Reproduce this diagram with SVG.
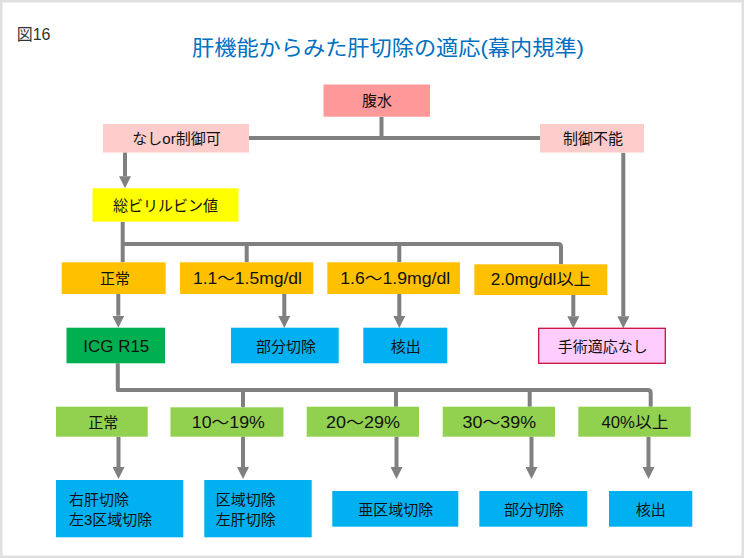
<svg xmlns="http://www.w3.org/2000/svg" width="744" height="558" viewBox="0 0 744 558">
<defs>
<style>
.t{font-family:"Liberation Sans","Noto Sans CJK JP",sans-serif;font-size:15px;fill:#111;dominant-baseline:central;text-anchor:middle}
.m{font-size:16px}
.l{text-anchor:start}
.c{fill:none;stroke:#808080;stroke-width:4;stroke-linejoin:round}
.a{marker-end:url(#ah)}
</style>
<marker id="ah" markerUnits="userSpaceOnUse" markerWidth="12" markerHeight="12" refX="0" refY="6" orient="auto">
<path d="M0,0 L12,6 L0,12 z" fill="#808080"/>
</marker>
</defs>
<rect x="1.25" y="1.25" width="741.5" height="555.5" fill="#fff" stroke="#e0e0e0" stroke-width="2.5"/>
<text x="16.7" y="40" style="font-family:'Liberation Sans','Noto Sans CJK JP',sans-serif;font-size:16px;fill:#333">図16</text>
<text x="388" y="47" textLength="392" lengthAdjust="spacingAndGlyphs" style="font-family:'Liberation Sans','Noto Sans CJK JP',sans-serif;font-size:21px;fill:#0070c0;dominant-baseline:central;text-anchor:middle">肝機能からみた肝切除の適応(幕内規準)</text>

<g id="connectors">
<path class="c" d="M381.5,116.7 V138 M249,138 H540"/>
<path class="c a" d="M125,152.3 V176.3"/>
<path class="c" d="M122.7,221.7 V262.3 M122.7,244 H558 Q561,244 561,247 V264.3 M246.7,244 V262.3 M399.3,244 V262.3"/>
<path class="c a" d="M118.3,294 V315.7"/>
<path class="c a" d="M284.3,294 V316"/>
<path class="c a" d="M399.3,294 V316"/>
<path class="c a" d="M573.3,295 V316.3"/>
<path class="c a" d="M623.3,152.7 V316.3"/>
<path class="c" d="M117.8,363.3 V390 H647.7 Q650.7,390 650.7,393 V406.7 M243,390 V407.3 M396,390 V406.7 M529.7,390 V406.7"/>
<path class="c a" d="M118.5,436.7 V467"/>
<path class="c a" d="M243,436.7 V467"/>
<path class="c a" d="M396.5,436.7 V467"/>
<path class="c a" d="M531.5,436.7 V467"/>
<path class="c a" d="M648.5,436.7 V467"/>
</g>

<g id="n-ascites"><rect x="323.5" y="84.5" width="106.5" height="32.2" fill="#ff9999"/><text class="t" x="377" y="100.5">腹水</text></g>
<g id="n-none"><rect x="103" y="124" width="146" height="28.5" fill="#ffcccc"/><text class="t" x="176.5" y="138.5">なしor制御可</text></g>
<g id="n-uncontrol"><rect x="540" y="124" width="104" height="28.5" fill="#ffcccc"/><text class="t" x="593" y="138.5">制御不能</text></g>
<g id="n-bili"><rect x="92.5" y="188.3" width="146" height="33.4" fill="#ffff00"/><text class="t" x="165.5" y="205">総ビリルビン値</text></g>

<g id="n-b-normal"><rect x="61.7" y="262.3" width="104" height="31.7" fill="#ffc000"/><text class="t" x="115" y="278">正常</text></g>
<g id="n-b-11"><rect x="180" y="262.3" width="133.3" height="31.7" fill="#ffc000"/><text class="t m" x="247.5" y="278" textLength="109" lengthAdjust="spacingAndGlyphs">1.1～1.5mg/dl</text></g>
<g id="n-b-16"><rect x="327.3" y="262.3" width="132.7" height="31.7" fill="#ffc000"/><text class="t m" x="395.3" y="278" textLength="110" lengthAdjust="spacingAndGlyphs">1.6～1.9mg/dl</text></g>
<g id="n-b-20"><rect x="474.3" y="264.3" width="133" height="30.7" fill="#ffc000"/><text class="t m" x="540.7" y="279.3" textLength="100" lengthAdjust="spacingAndGlyphs">2.0mg/dl以上</text></g>

<g id="n-icg"><rect x="66.5" y="327.7" width="98.5" height="35.6" fill="#00b050"/><text class="t m" x="116.3" y="346.5" textLength="66" lengthAdjust="spacingAndGlyphs">ICG R15</text></g>
<g id="n-partial1"><rect x="231" y="327.7" width="107.7" height="35.6" fill="#00b0f0"/><text class="t" x="286" y="346">部分切除</text></g>
<g id="n-enuc1"><rect x="363.3" y="327.7" width="84" height="35.6" fill="#00b0f0"/><text class="t" x="405.8" y="346">核出</text></g>
<g id="n-noop"><rect x="538.7" y="328.3" width="126.6" height="35" fill="#ffccff" stroke="#c8103e" stroke-width="1.3"/><text class="t" x="602.7" y="346.5">手術適応なし</text></g>

<g id="n-i-normal"><rect x="56" y="406.7" width="91.7" height="30" fill="#92d050"/><text class="t" x="103.3" y="422">正常</text></g>
<g id="n-i-10"><rect x="170.5" y="407.3" width="113" height="29.4" fill="#92d050"/><text class="t m" x="228.3" y="422" textLength="73" lengthAdjust="spacingAndGlyphs">10～19%</text></g>
<g id="n-i-20"><rect x="306.7" y="406.7" width="112.3" height="30" fill="#92d050"/><text class="t m" x="363" y="422" textLength="74" lengthAdjust="spacingAndGlyphs">20～29%</text></g>
<g id="n-i-30"><rect x="442.7" y="406.7" width="112.3" height="30" fill="#92d050"/><text class="t m" x="499.3" y="422" textLength="73.5" lengthAdjust="spacingAndGlyphs">30～39%</text></g>
<g id="n-i-40"><rect x="578.3" y="406.7" width="112.4" height="30" fill="#92d050"/><text class="t m" x="635" y="422" textLength="67" lengthAdjust="spacingAndGlyphs">40%以上</text></g>

<g id="n-right"><rect x="56" y="480" width="127.3" height="57.3" fill="#00b0f0"/><text class="t l" x="69" y="499">右肝切除</text><text class="t l" x="69" y="519.7">左3区域切除</text></g>
<g id="n-sector"><rect x="204.3" y="480" width="107.4" height="57.3" fill="#00b0f0"/><text class="t l" x="215.7" y="499">区域切除</text><text class="t l" x="215.7" y="519.7">左肝切除</text></g>
<g id="n-subseg"><rect x="332.3" y="491" width="126" height="35.7" fill="#00b0f0"/><text class="t" x="395.8" y="509.5">亜区域切除</text></g>
<g id="n-partial2"><rect x="479.3" y="491" width="108" height="35.7" fill="#00b0f0"/><text class="t" x="534" y="509.5">部分切除</text></g>
<g id="n-enuc2"><rect x="609" y="491" width="83.3" height="35.7" fill="#00b0f0"/><text class="t" x="650.8" y="509.5">核出</text></g>
</svg>
